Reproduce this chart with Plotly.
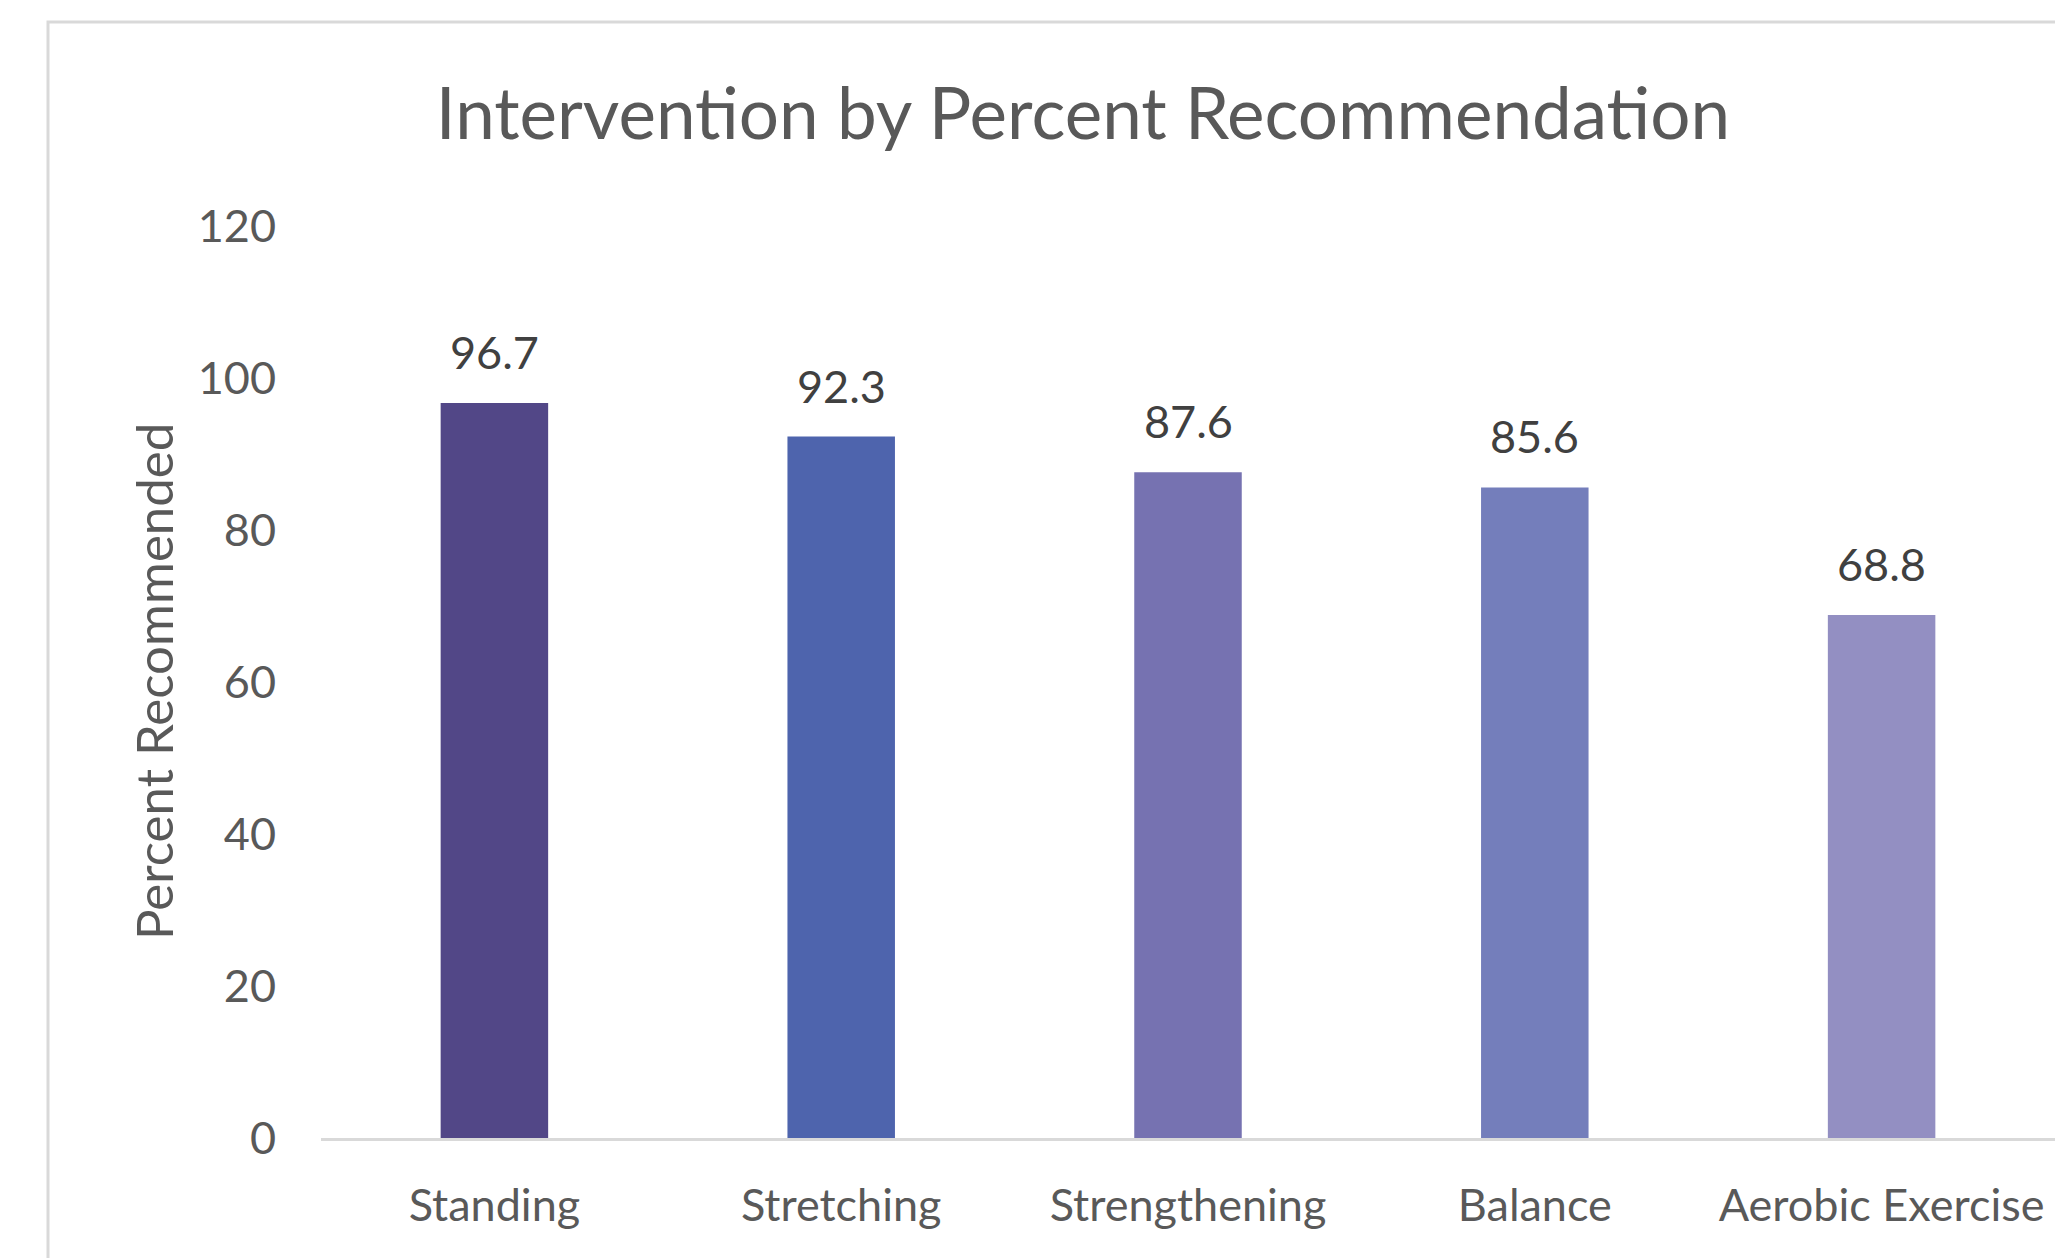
import plotly.graph_objects as go

categories = ["Standing", "Stretching", "Strengthening", "Balance", "Aerobic Exercise"]
values = [96.7, 92.3, 87.6, 85.6, 68.8]
bar_colors = ["#524787", "#4E64AD", "#7672B1", "#747EBB", "#938FC2"]
y_ticks = [0, 20, 40, 60, 80, 100, 120]

W, H = 2055, 1258
L, R, T, B = 321, 0, 226, 120
pw, ph = W - L - R, H - T - B

FONT = "Lato, 'Open Sans', sans-serif"
GRAY = "#595959"

fig = go.Figure()
fig.add_trace(go.Bar(
    x=categories, y=values, width=0.31,
    marker=dict(color=bar_colors, line=dict(width=0)),
    hoverinfo="skip",
))

annotations = []
for c, v in zip(categories, values):
    annotations.append(dict(
        x=c, y=v, xref="x", yref="y", text=f"{v:.1f}", showarrow=False,
        yanchor="bottom", yshift=22,
        font=dict(family=FONT, size=45, color="#404040"),
    ))
# y axis title
annotations.append(dict(
    x=(153 - L) / pw, y=0.5, xref="paper", yref="paper",
    text="Percent Recommended", textangle=-90, showarrow=False,
    xanchor="center", yanchor="middle",
    font=dict(family=FONT, size=51, color=GRAY),
))

shapes = [dict(
    type="rect", xref="paper", yref="paper",
    x0=(48 - L) / pw, x1=1.1, y0=-0.3, y1=(H - B - 22) / ph,
    line=dict(color="#D9D9D9", width=3), fillcolor="rgba(0,0,0,0)", layer="below",
)]

fig.update_layout(
    width=W, height=H,
    margin=dict(l=L, r=R, t=T, b=B, pad=0),
    paper_bgcolor="white", plot_bgcolor="white",
    showlegend=False,
    title=dict(
        text="Intervention by Percent Recommendation",
        x=1083 / W, xanchor="center", xref="container",
        y=1 - 114 / H, yanchor="middle", yref="container",
        font=dict(family=FONT, size=71, color=GRAY),
    ),
    xaxis=dict(
        showline=True, linecolor="#D9D9D9", linewidth=3,
        showgrid=False, zeroline=False, ticks="",
        tickfont=dict(family=FONT, size=45, color=GRAY),
        ticklabelstandoff=26,
        fixedrange=True,
    ),
    yaxis=dict(
        range=[0, 120], tickvals=y_ticks, showline=False, showgrid=False,
        zeroline=False, ticks="",
        tickfont=dict(family=FONT, size=45, color=GRAY),
        ticklabelstandoff=44,
        fixedrange=True,
    ),
    annotations=annotations,
    shapes=shapes,
)

fig.write_html("out.html", config={"displayModeBar": False})
